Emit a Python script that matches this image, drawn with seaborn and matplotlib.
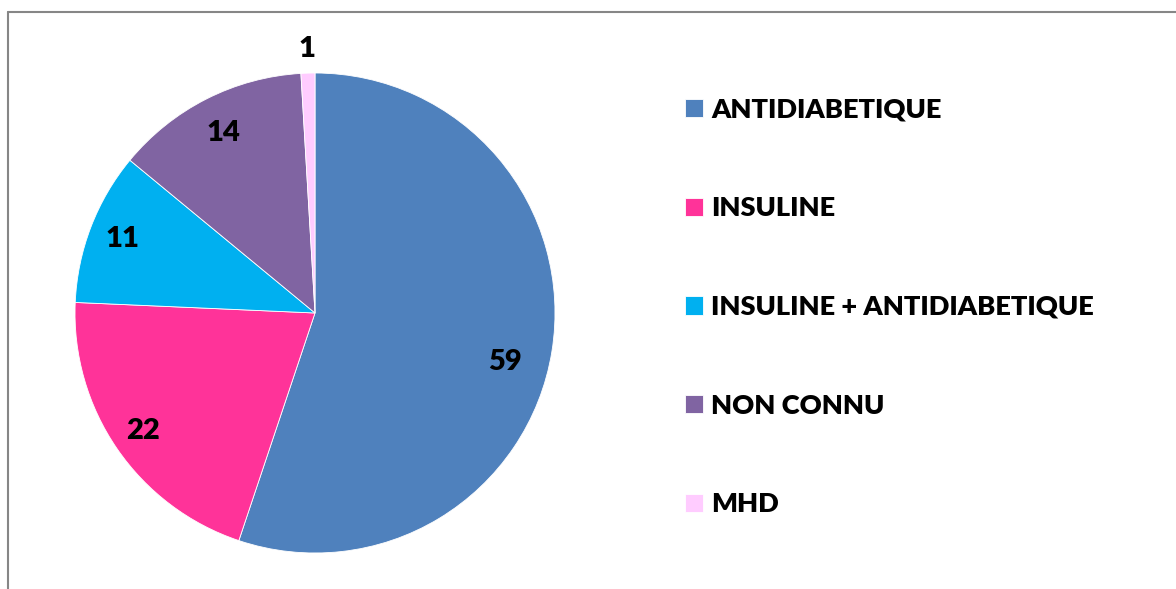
import matplotlib
matplotlib.use("Agg")
import matplotlib.pyplot as plt
import seaborn as sns
import numpy as np
from matplotlib.lines import Line2D

categories = ["ANTIDIABETIQUE", "INSULINE", "INSULINE + ANTIDIABETIQUE", "NON CONNU", "MHD"]
values = [59, 22, 11, 14, 1]
colors = ["#4F81BD", "#FF3399", "#00B0F0", "#8064A2", "#FFCCFF"]

sns.set_theme(style="white")
plt.rcParams['font.family'] = ['Lato', 'DejaVu Sans']
palette = sns.color_palette(colors)

W, H = 1176, 589
fig = plt.figure(figsize=(W / 100, H / 100), dpi=100)
cx, cy, r = 315, 313, 240
ax = fig.add_axes([(cx - r) / W, (H - cy - r) / H, 2 * r / W, 2 * r / H])
wedges, _ = ax.pie(values, colors=palette, startangle=90, counterclock=False,
                   radius=1.0, wedgeprops=dict(edgecolor="white", linewidth=0.6))
ax.set_xlim(-1, 1)
ax.set_ylim(-1, 1)
ax.set_aspect("equal")
ax.axis("off")

WEIGHT = "heavy"
label_r = [0.82, 0.87, 0.86, 0.84, 1.10]
angle_off = [-5.3, 0, 0, 0, 0]
for w, v, lr, ao in zip(wedges, values, label_r, angle_off):
    mid = np.deg2rad((w.theta1 + w.theta2) / 2 + ao)
    ax.text(lr * np.cos(mid), lr * np.sin(mid), str(v), ha="center", va="center",
            fontsize=21, fontweight=WEIGHT, color="black", clip_on=False)

fs = 19.6
leg = fig.legend(wedges, categories, loc="center left",
                 bbox_to_anchor=(685 / W, 1 - 307 / H), frameon=False,
                 prop=dict(size=fs, weight=WEIGHT),
                 handlelength=0.65, handleheight=0.65, handletextpad=0.3,
                 labelspacing=2.74, borderpad=0, borderaxespad=0)
for t in leg.get_texts():
    t.set_color("black")

# chart border (left and top only visible)
fig.add_artist(Line2D([7.5 / W, 7.5 / W], [0, 1 - 12 / H], transform=fig.transFigure,
                      color="#868686", linewidth=1.5))
fig.add_artist(Line2D([7.5 / W, 1], [1 - 12 / H, 1 - 12 / H], transform=fig.transFigure,
                      color="#868686", linewidth=1.5))

fig.savefig("out.png", dpi=100)
